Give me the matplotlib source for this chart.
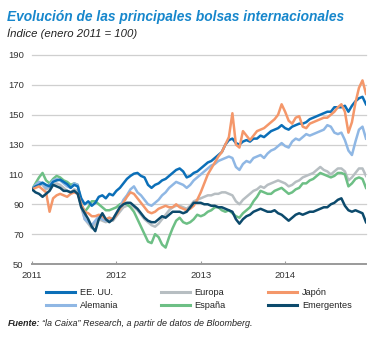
import matplotlib
matplotlib.use("Agg")
import matplotlib.pyplot as plt
import numpy as np

plt.rcParams["font.family"] = ["Liberation Sans", "DejaVu Sans"]

# time in months since Jan 2011 (semi-monthly samples)
months = np.arange(0, 48, 0.5)
year_ticks = [0, 12, 24, 36]
year_labels = ["2011", "2012", "2013", "2014"]
y_ticks = [50, 70, 90, 110, 130, 150, 170, 190]

eeuu = [100, 102, 103, 104.5, 103, 102, 105, 106, 106.5, 105, 103.5, 101, 103, 102, 94, 90,
        92, 89, 91, 95, 96, 94, 97, 96, 99, 101, 104, 107, 109, 110.5, 111, 109,
        108, 103, 101, 103, 104, 106, 107, 109, 111, 113, 114, 112, 108, 109, 111, 112,
        114, 116, 118, 119, 121, 123, 125, 130, 133, 134, 131, 130, 132, 133, 132, 134,
        134, 136, 135, 137, 139, 140, 141, 143, 141, 140, 142, 143, 144, 144, 145, 147,
        148, 149, 150, 151, 152, 152, 155, 155, 155, 156, 152, 156, 159, 161, 162, 157]
alemania = [100, 103, 105, 104, 101, 103, 106, 107, 106, 104, 102, 101, 104, 103, 90, 80,
            78, 76, 79, 82, 80, 79, 81, 80, 84, 88, 93, 96, 100, 102, 98, 96,
            93, 90, 89, 91, 93, 96, 98, 101, 103, 105, 104, 103, 101, 103, 106, 108,
            110, 112, 114, 116, 117, 119, 120, 121, 122, 121, 115, 113, 117, 119, 118, 121,
            122, 123, 121, 124, 126, 127, 129, 131, 129, 128, 132, 134, 133, 135, 137, 136,
            137, 138, 139, 140, 143, 142, 138, 137, 138, 133, 126, 123, 132, 140, 142, 134]
europa = [100, 102, 104, 103, 100, 101, 103, 104, 103, 101, 99, 98, 100, 99, 88, 80,
          77, 74, 77, 80, 79, 78, 79, 79, 82, 85, 88, 89, 90, 88, 86, 83,
          80, 78, 76, 75, 77, 80, 83, 86, 88, 89, 89, 88, 87, 89, 92, 93,
          94, 95, 96, 96, 97, 97, 98, 98, 97, 96, 92, 90, 93, 95, 97, 99,
          100, 102, 101, 103, 104, 105, 106, 105, 104, 102, 103, 105, 106, 108, 109, 110,
          111, 113, 115, 113, 112, 110, 112, 114, 114, 112, 106, 108, 111, 114, 114, 109]
espana = [100, 104, 108, 111, 106, 104, 107, 109, 108, 106, 105, 103, 104, 103, 90, 85,
          88, 92, 92, 90, 88, 86, 86, 87, 88, 90, 91, 90, 88, 85, 80, 75,
          70, 65, 64, 70, 68, 63, 61, 68, 74, 79, 81, 78, 77, 78, 80, 83,
          82, 83, 85, 86, 88, 88, 86, 85, 86, 84, 82, 81, 84, 86, 88, 92,
          95, 99, 98, 97, 97, 99, 100, 101, 99, 97, 98, 100, 101, 104, 104, 106,
          107, 109, 111, 110, 109, 108, 109, 111, 111, 110, 102, 104, 107, 108, 107, 101]
japon = [100, 101, 102, 100, 98, 85, 94, 96, 97, 96, 95, 97, 98, 97, 90, 85,
         84, 82, 82, 83, 82, 80, 81, 80, 83, 87, 91, 95, 98, 97, 94, 91,
         88, 85, 84, 85, 87, 88, 89, 88, 88, 90, 88, 87, 86, 87, 89, 93,
         98, 104, 110, 114, 118, 122, 125, 130, 135, 151, 130, 128, 139, 136, 133, 136,
         139, 140, 141, 143, 145, 147, 150, 157, 152, 146, 144, 148, 149, 142, 141, 144,
         145, 146, 147, 148, 148, 150, 152, 155, 157, 152, 138, 145, 158, 168, 173, 164]
emergentes = [100, 98, 97, 95, 97, 99, 103, 102, 101, 99, 99, 98, 99, 97, 88, 84,
              80, 75, 72, 80, 84, 80, 78, 80, 84, 88, 90, 91, 91, 89, 87, 84,
              81, 79, 78, 78, 80, 82, 81, 83, 85, 85, 85, 84, 85, 88, 91, 91,
              91, 90, 90, 89, 89, 88, 88, 87, 86, 85, 80, 77, 80, 82, 83, 85,
              86, 87, 86, 85, 85, 86, 84, 83, 81, 79, 81, 83, 84, 83, 84, 85,
              85, 86, 87, 88, 88, 90, 91, 93, 94, 89, 86, 85, 86, 85, 84, 78]

series = [
    ("Europa", europa, "#b7bec2"),
    ("España", espana, "#6dbf85"),
    ("Alemania", alemania, "#8fb7e4"),
    ("EE. UU.", eeuu, "#0b6fb8"),
    ("Japón", japon, "#f4976a"),
    ("Emergentes", emergentes, "#0c4a6c"),
]
legend_order = ["EE. UU.", "Alemania", "Europa", "España", "Japón", "Emergentes"]

W, H = 372, 338
fig = plt.figure(figsize=(W / 100, H / 100), dpi=100)
ax = fig.add_axes([32 / W, 1 - 264 / H, (366 - 32) / W, (264 - 55) / H])

handles = {}
for name, vals, col in series:
    (ln,) = ax.plot(months, vals, color=col, lw=1.8, label=name, solid_joinstyle="round")
    handles[name] = ln

ax.set_xlim(0, 47.5)
ax.set_ylim(50, 190)
ax.set_yticks(y_ticks)
ax.set_xticks(year_ticks)
ax.set_xticklabels(year_labels)
for v in y_ticks[1:]:
    ax.axhline(v, color="#cfcfcf", lw=0.9, zorder=0, clip_on=False)
for s in ["top", "right", "left"]:
    ax.spines[s].set_visible(False)
ax.spines["bottom"].set_color("#9a9a9a")
ax.spines["bottom"].set_linewidth(1.4)
ax.tick_params(axis="y", length=0, pad=6, labelsize=6.8, labelcolor="#333333")
ax.tick_params(axis="x", direction="in", length=2.5, width=0.8, color="#9a9a9a",
               pad=5, labelsize=6.8, labelcolor="#333333")

fig.text(7 / W, 1 - 17 / H, "Evolución de las principales bolsas internacionales",
         fontsize=9.95, fontweight="bold", style="italic", color="#1787cc",
         va="center", ha="left")
fig.text(7 / W, 1 - 33 / H, "Índice (enero 2011 = 100)", fontsize=8.2, style="italic",
         color="#222222", va="center", ha="left")

leg = fig.legend([handles[n] for n in legend_order], legend_order, ncol=3,
                 loc="upper left", bbox_to_anchor=(46 / W, 1 - 288 / H), frameon=False,
                 fontsize=6.6, handlelength=3.2, handletextpad=0.5, columnspacing=4.6,
                 labelspacing=0.45, borderpad=0, borderaxespad=0)
for t in leg.get_texts():
    t.set_color("#222222")
for l in leg.get_lines():
    l.set_linewidth(2.2)

fig.canvas.draw()
r = fig.canvas.get_renderer()
t1 = fig.text(8 / W, 1 - 324 / H, "Fuente:", fontsize=6.5, fontweight="bold",
              style="italic", color="#222222", va="center", ha="left")
bb = t1.get_window_extent(renderer=r)
fig.text((bb.x1 + 2) / W, 1 - 324 / H,
         "\u201cla Caixa\u201d Research, a partir de datos de Bloomberg.", fontsize=6.5,
         style="italic", color="#222222", va="center", ha="left")

fig.savefig("out.png", dpi=100)
